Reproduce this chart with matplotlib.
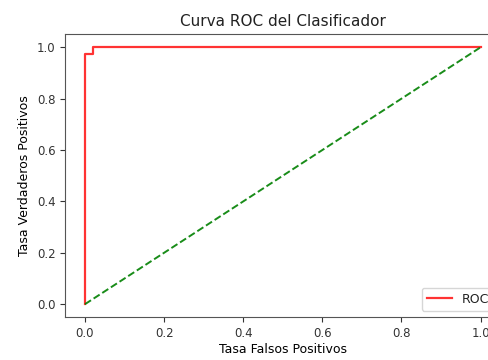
import matplotlib
matplotlib.use("Agg")
import matplotlib.pyplot as plt

# ROC curve points
fpr = [0.0, 0.0, 0.021, 0.021, 1.0]
tpr = [0.0, 0.975, 0.975, 1.0, 1.0]
diag = [0.0, 1.0]

plt.rcParams["text.color"] = "#222222"
plt.rcParams["xtick.color"] = "#333333"
plt.rcParams["ytick.color"] = "#333333"
plt.rcParams["axes.edgecolor"] = "#555555"

fig = plt.figure(figsize=(4.89, 3.6), dpi=100)
# axes run past the right edge of the figure, as in the reference crop
ax = fig.add_axes([0.1333, 0.1194, 0.890, 0.785])

ax.plot(fpr, tpr, color="red", lw=1.6, alpha=0.8, label="ROC")
ax.plot(diag, diag, color="green", ls="--", lw=1.4, alpha=0.9)

ax.set_title("Curva ROC del Clasificador", fontsize=11)
ax.set_xlabel("Tasa Falsos Positivos", fontsize=9, labelpad=2)
ax.set_ylabel("Tasa Verdaderos Positivos", fontsize=9)
ax.tick_params(labelsize=8.5)
ax.legend(loc="lower right", fontsize=9)

fig.savefig("out.png", dpi=100)
